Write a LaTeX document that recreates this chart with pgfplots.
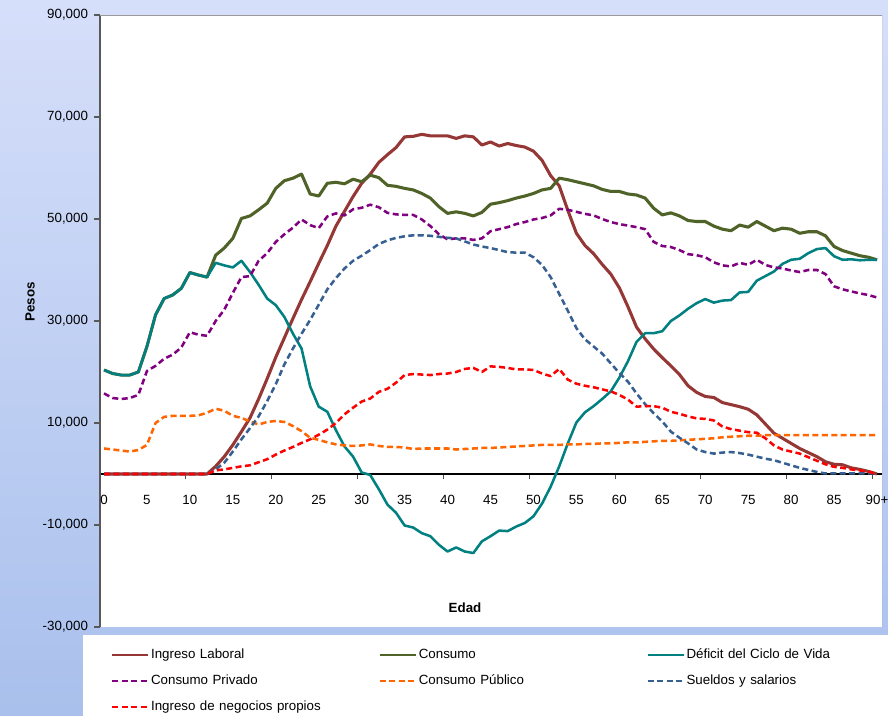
\documentclass[border=0pt]{standalone}
\usepackage{fontspec}
\setmainfont{Liberation Sans}
\usepackage{pgfplots}
\pgfplotsset{compat=1.18}
\usepackage{pgfplotstable}
\definecolor{bgtop}{HTML}{D6DFFA}
\definecolor{bgbot}{HTML}{A9C0EC}
\definecolor{cL}{HTML}{953735}
\definecolor{cC}{HTML}{4F6228}
\definecolor{cD}{HTML}{008080}
\definecolor{cP}{HTML}{800080}
\definecolor{cG}{HTML}{FF6600}
\definecolor{cS}{HTML}{376092}
\definecolor{cR}{HTML}{FF0000}
\pgfplotstableread{
age L C D P G S R
0 0 20400 20400 15800 5000 0 0
1 0 19700 19700 14900 4800 0 0
2 0 19400 19400 14700 4600 0 0
3 0 19400 19400 14900 4400 0 0
4 0 20000 20000 15500 4700 0 0
5 0 25000 25000 20200 5700 0 0
6 0 31200 31200 21200 10000 0 0
7 0 34400 34400 22600 11200 0 0
8 0 35100 35100 23400 11400 0 0
9 0 36400 36400 24800 11400 0 0
10 0 39500 39500 27800 11400 0 0
11 0 39000 39000 27300 11500 0 0
12 0 38600 38600 27100 12000 0 0
13 1500 42900 41400 30000 12800 900 700
14 3400 44300 40900 32200 12400 2200 900
15 5700 46200 40500 35500 11400 4400 1200
16 8300 50100 41800 38600 11000 6800 1500
17 11000 50600 39600 38800 10300 9000 1700
18 14700 51800 37100 41800 9700 11300 2300
19 18700 53100 34400 43300 10200 14300 2900
20 22900 56000 33100 45500 10400 17600 3800
21 26700 57500 30800 47000 10200 21500 4600
22 30500 58000 27500 48300 9400 24600 5300
23 34200 58800 24600 49900 8400 27500 6100
24 37700 54900 17200 48800 7100 30200 6800
25 41300 54500 13200 48200 6700 33200 7700
26 44800 57000 12200 50500 6200 36200 8700
27 48600 57200 8600 51100 5800 38400 10000
28 51500 56900 5400 50700 5600 40300 11700
29 54400 57800 3400 51900 5500 41800 13000
30 57000 57300 300 52200 5600 42800 14200
31 58800 58600 -200 52800 5800 43900 14800
32 61100 58100 -3000 52300 5500 45100 16100
33 62600 56600 -6000 51200 5300 45800 16700
34 64000 56400 -7600 50900 5300 46300 17900
35 66100 56000 -10100 50800 5200 46600 19400
36 66200 55700 -10500 50800 4900 46800 19600
37 66600 55000 -11600 49900 5000 46800 19500
38 66300 54100 -12200 48600 5000 46700 19400
39 66300 52400 -13900 47000 5000 46500 19600
40 66300 51100 -15200 46000 5000 46300 19700
41 65800 51400 -14400 46200 4800 46200 20000
42 66300 51100 -15200 46200 4900 45600 20600
43 66100 50600 -15500 45900 5000 45000 20800
44 64500 51300 -13200 46200 5100 44600 20000
45 65100 52900 -12200 47600 5100 44300 21100
46 64300 53200 -11100 48000 5200 43900 21000
47 64800 53600 -11200 48400 5300 43500 20800
48 64400 54100 -10300 49000 5400 43400 20500
49 64100 54500 -9600 49400 5500 43400 20500
50 63300 55000 -8300 49900 5600 42500 20400
51 61500 55700 -5800 50200 5700 41000 19700
52 58500 56000 -2500 50700 5700 38600 19200
53 56500 58000 1500 52000 5700 35300 20600
54 51700 57700 6000 51800 5800 32000 18500
55 47200 57300 10100 51400 5800 28600 17700
56 44800 56900 12100 51000 5900 26400 17300
57 43200 56500 13300 50700 5900 25000 17000
58 41100 55800 14700 50000 6000 23600 16600
59 39200 55400 16200 49400 6000 21700 16200
60 36500 55400 18900 49000 6100 19800 15500
61 32800 54900 22100 48700 6200 18100 14600
62 28800 54700 25900 48400 6200 15800 13200
63 26500 54100 27600 48000 6300 13700 13300
64 24500 52100 27600 45500 6400 11900 13300
65 22800 50800 28000 44700 6500 10300 13000
66 21200 51200 30000 44500 6500 8300 12200
67 19500 50600 31100 43900 6600 7100 11800
68 17300 49700 32400 43100 6700 6000 11300
69 16000 49500 33500 42900 6800 4800 10900
70 15200 49500 34300 42500 6900 4300 10800
71 15000 48600 33600 41500 7000 4000 10500
72 14000 48000 34000 40900 7200 4200 9300
73 13600 47700 34100 40700 7300 4300 8800
74 13200 48800 35600 41400 7400 4100 8500
75 12700 48400 35700 41000 7500 3800 8200
76 11600 49500 37900 42000 7500 3400 8100
77 9800 48600 38800 41000 7600 3000 7000
78 8000 47700 39700 40500 7600 2700 5600
79 7000 48200 41200 40300 7600 2200 4800
80 6000 48000 42000 39900 7600 1700 4400
81 5000 47200 42200 39600 7600 1200 4000
82 4200 47500 43300 40000 7600 800 3300
83 3400 47500 44100 40000 7600 400 2600
84 2400 46700 44300 39200 7600 100 1900
85 1900 44600 42700 36800 7600 100 1400
86 1800 43800 42000 36200 7600 100 1200
87 1200 43300 42100 35800 7600 100 900
88 900 42800 41900 35400 7600 100 700
89 500 42500 42000 35100 7600 100 450
90 0 42000 42000 34600 7600 100 0
}\data

\begin{document}
\begin{tikzpicture}
\useasboundingbox (0,0) rectangle (666pt,537pt);
\shade[top color=bgtop, bottom color=bgbot] (0,0) rectangle (666pt,537pt);
\fill[white] (62pt,0pt) rectangle (666pt,60.75pt);
\begin{axis}[
  at={(75pt,66.75pt)}, anchor=south west,
  scale only axis, width=586.5pt, height=459pt,
  xmin=-0.466, xmax=90.58, ymin=-30000, ymax=90000,
  axis background/.style={fill=white},
  axis x line=middle, axis y line=left,
  x axis line style={-, black, line width=1.4pt},
  y axis line style={-, black!65, line width=1pt},
  tick align=outside,
  xtick={0,5,...,90},
  xticklabels={0,5,10,15,20,25,30,35,40,45,50,55,60,65,70,75,80,85,90+},
  minor xtick={9.5,19.5,...,89.5},
  major x tick style={draw=none},
  minor x tick style={black!70, line width=0.8pt},
  minor tick length=4pt,
  major tick length=4.5pt,
  ytick={-30000,-10000,10000,30000,50000,70000,90000},
  yticklabels={{-30,000},{-10,000},{10,000},{30,000},{50,000},{70,000},{90,000}},
  y tick style={black!65, line width=0.8pt},
  tick label style={font=\fontsize{10}{12}\selectfont, black},
  xticklabel style={yshift=-8pt},
  yticklabel style={xshift=-1pt},
  xlabel={Edad}, ylabel={Pesos},
  xlabel style={at={(axis description cs:0.4668,0.031)}, anchor=center, font=\bfseries\fontsize{10}{12}\selectfont},
  ylabel style={at={(axis description cs:-0.0895,0.531)}, anchor=center, rotate=0, font=\bfseries\fontsize{10}{12}\selectfont},
  no markers,
  legend columns=3,
  legend cell align=left,
  legend style={at={(axis description cs:0.0145,-0.0245)}, anchor=north west,
    draw=none, fill=none, inner sep=0pt, outer sep=0pt,
    column sep=0pt, row sep=0pt,
    font=\fontsize{10}{12}\selectfont,
    nodes={text width=169.5pt, minimum height=19.5pt, inner xsep=1.5pt, inner ysep=0pt, align=left}},
  legend image code/.code={\draw[#1, line width=1.3pt] (0pt,0pt) -- (27pt,0pt);},
  every axis plot/.append style={line join=round},
]
\addplot[cL, line width=2.3pt] table[x=age,y=L]{\data};
\addlegendentry{Ingreso Laboral}
\addplot[cC, line width=2.3pt] table[x=age,y=C]{\data};
\addlegendentry{Consumo}
\addplot[cD, line width=1.9pt] table[x=age,y=D]{\data};
\addlegendentry{Déficit del Ciclo de Vida}
\addplot[cP, line width=1.9pt, dash pattern=on 4.5pt off 2.6pt] table[x=age,y=P]{\data};
\addlegendentry{Consumo Privado}
\addplot[cG, line width=1.9pt, dash pattern=on 4.5pt off 2.6pt] table[x=age,y=G]{\data};
\addlegendentry{Consumo Público}
\addplot[cS, line width=1.9pt, dash pattern=on 4.5pt off 2.6pt] table[x=age,y=S]{\data};
\addlegendentry{Sueldos y salarios}
\addplot[cR, line width=1.9pt, dash pattern=on 4.5pt off 2.6pt] table[x=age,y=R]{\data};
\addlegendentry{Ingreso de negocios propios}
\draw[black!40, line width=0.6pt] (rel axis cs:0,1) -- (rel axis cs:1,1) -- (rel axis cs:1,0) -- (rel axis cs:0,0);
\end{axis}
\end{tikzpicture}
\end{document}
